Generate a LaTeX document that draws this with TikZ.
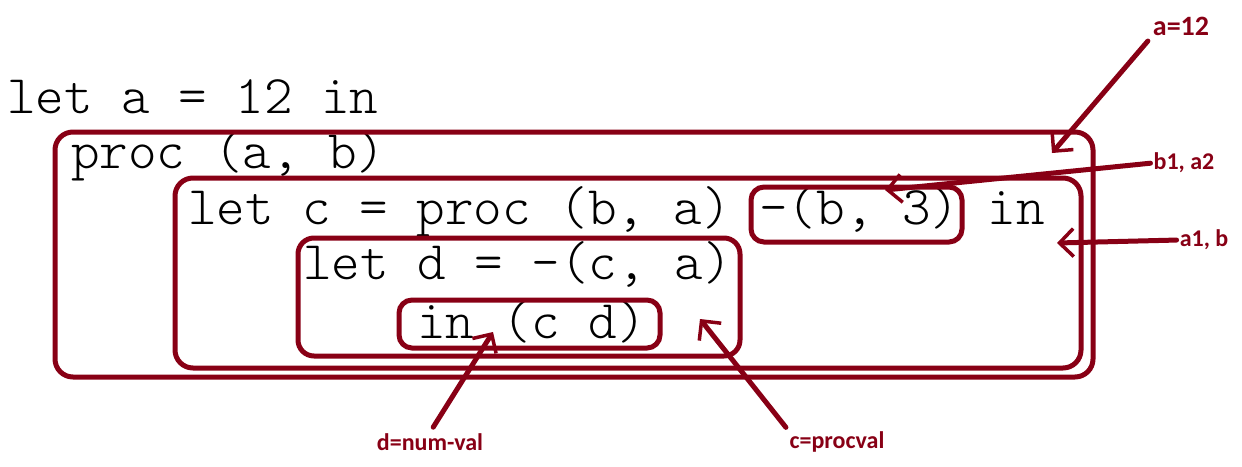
\documentclass[tikz,border=0pt]{standalone}
\usepackage{fontspec}
\newfontfamily\notefont{Carlito}
\setmonofont{Latin Modern Mono Light}
\usetikzlibrary{arrows.meta}
\definecolor{scopered}{RGB}{136,0,21}
\tikzset{
  code/.style={anchor=base west, inner sep=0pt, font=\ttfamily\fontsize{54.4}{60}\selectfont},
  scopebox/.style={draw=scopered, line width=5pt, rounded corners=#1, inner sep=0pt},
  scopebox/.default=18pt,
  note/.style={text=scopered, font=\notefont\bfseries\fontsize{24}{28}\selectfont, inner sep=1pt},
  pointer/.style={draw=scopered, line width=5pt, line cap=round,
    -{Straight Barb[length=14pt, width=28pt, line width=3.5pt]}}
}
\begin{document}
\begin{tikzpicture}[x=1pt, y=-1pt]
  \useasboundingbox (0,0) rectangle (1242,466);
  % the program
  \draw
    (7,113) node[code] (line1){let a = 12 in}
    (71,168) node[code] (line2){proc (a, b)}
    (188,224) node[code] (line3){let c = proc (b, a) -(b, 3) in}
    (303,279) node[code] (line4){let d = -(c, a)}
    (417,338) node[code] (line5){in (c d)};
  % scopes
  \node[scopebox, minimum width=1038pt, minimum height=245pt] (procbox) at (574,254.5) {};
  \node[scopebox, minimum width=906pt, minimum height=190pt] (letcbox) at (628,273) {};
  \node[scopebox=16pt, minimum width=442pt, minimum height=118pt] (letdbox) at (519,297) {};
  \node[scopebox=13pt, minimum width=261pt, minimum height=48pt] (bodybox) at (529.5,324) {};
  \node[scopebox=13pt, minimum width=211pt, minimum height=55pt] (diffbox) at (856.5,214.5) {};
  % environments
  \node[note, font=\notefont\bfseries\fontsize{28}{30}\selectfont] (a12) at (1181,26) {a=12};
  \node[note] (b1a2) at (1184,163) {b1, a2};
  \node[note] (a1b) at (1204,240) {a1, b};
  \node[note] (dnum) at (430,442) {d=num-val};
  \node[note] (cproc) at (837,442) {c=procval};
  \coordinate (a12tip) at (1052,153);
  \coordinate (b1a2tip) at (885,190);
  \coordinate (a1btip) at (1057,243);
  \coordinate (dnumtip) at (493,332);
  \coordinate (cproctip) at (700,319);
  \begin{scope}[pointer]
    \draw[shorten <=6pt] (a12.south west) -- (a12tip);
    \draw[shorten <=2pt] (b1a2.west) -- (b1a2tip);
    \draw[shorten <=2pt] (a1b.west) -- (a1btip);
    \draw[shorten <=6pt] (dnum.north) -- (dnumtip);
    \draw[shorten <=4pt] (cproc.north west) -- (cproctip);
  \end{scope}
\end{tikzpicture}
\end{document}
